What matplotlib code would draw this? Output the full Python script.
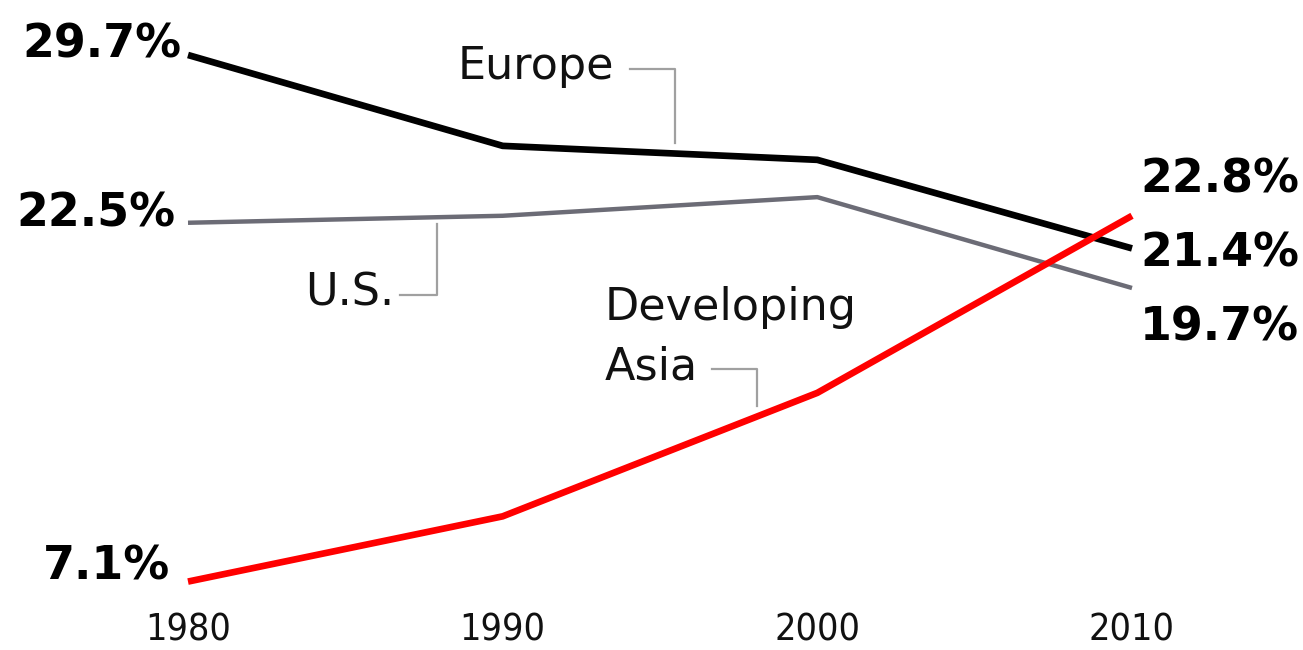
import matplotlib
matplotlib.use("Agg")
import matplotlib.pyplot as plt

# Share of world GDP
years = [1980, 1990, 2000, 2010]
europe = [29.7, 25.8, 25.2, 21.4]
us = [22.5, 22.8, 23.6, 19.7]
asia = [7.1, 9.9, 15.2, 22.8]
tick_labels = ["1980", "1990", "2000", "2010"]

W, H = 1303, 650
fig = plt.figure(figsize=(W / 100, H / 100), dpi=100)

# axes spans pixel rows 0..600 from top; map data so 1980 -> x=188, 2010 -> x=1132
px_per_year = (1132 - 188) / 30
px_per_pct = 23.3
ax = fig.add_axes([0, 50 / H, 1, 600 / H])
ax.set_xlim(1980 - 188 / px_per_year, 1980 + (W - 188) / px_per_year)
ytop = 29.7 + 55 / px_per_pct
ax.set_ylim(ytop - 600 / px_per_pct, ytop)
for s in ax.spines.values():
    s.set_visible(False)
ax.set_yticks([])
ax.set_xticks(years)
ax.set_xticklabels(tick_labels, family="DejaVu Sans", fontstretch="condensed",
                   fontsize=27, color="#111111")
ax.tick_params(axis="x", length=0, pad=9)

ax.plot(years, us, color="#6c6c76", lw=3.2, solid_capstyle="butt", clip_on=False)
ax.plot(years, europe, color="#000000", lw=4.8, solid_capstyle="butt", clip_on=False)
ax.plot(years, asia, color="#ff0000", lw=4.8, solid_capstyle="butt", clip_on=False)


def to_data(px, py):
    """pixel (from top-left of figure) -> data coords"""
    return (ax.get_xlim()[0] + px / px_per_year, ytop - py / px_per_pct)


num_kw = dict(fontsize=33, fontweight="bold", family="DejaVu Sans", va="center")
lab_kw = dict(fontsize=32, family="DejaVu Sans", va="center", color="#111111")

# value labels at ends
ax.text(*to_data(182, 45), "29.7%", ha="right", **num_kw)
ax.text(*to_data(176, 214), "22.5%", ha="right", **num_kw)
ax.text(*to_data(170, 567), "7.1%", ha="right", **num_kw)
ax.text(*to_data(1140, 180), "22.8%", ha="left", **num_kw)
ax.text(*to_data(1140, 254), "21.4%", ha="left", **num_kw)
ax.text(*to_data(1140, 328), "19.7%", ha="left", **num_kw)

# series names
ax.text(*to_data(458, 67), "Europe", ha="left", **lab_kw)
ax.text(*to_data(394, 293), "U.S.", ha="right", **lab_kw)
ax.text(*to_data(605, 308), "Developing", ha="left", **lab_kw)
ax.text(*to_data(605, 367), "Asia", ha="left", **lab_kw)

# leader lines
lead = dict(color="#a0a0a0", lw=1.6, clip_on=False)
for pts in ([(630, 69), (675, 69), (675, 143)],
            [(400, 295), (437, 295), (437, 224)],
            [(712, 369), (757, 369), (757, 406)]):
    xs, ys = zip(*[to_data(px, py) for px, py in pts])
    ax.plot(xs, ys, **lead)

plt.savefig("out.png", dpi=100, facecolor="white")
plt.close()
